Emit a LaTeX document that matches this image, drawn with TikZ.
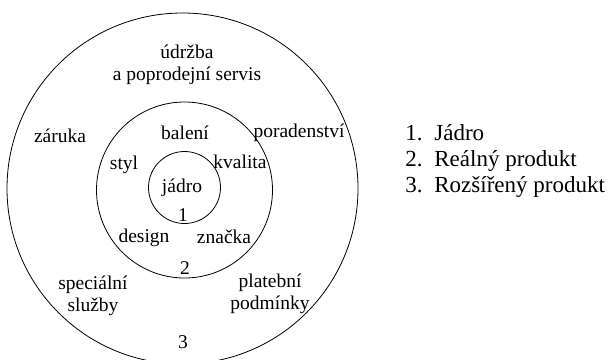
\documentclass[tikz,border=0pt]{standalone}
\usepackage{fontspec}
\setmainfont{Liberation Serif}
\usepackage{tikz}

\begin{document}
\begin{tikzpicture}[x = 1pt, y = -1pt, line width = 0.8pt,
                        ring/.style = {circle, draw, inner sep = 0pt},
                        word/.style = {anchor = base, inner sep = 0pt, align = center,
                                       font = \fontsize{19.5}{22}\selectfont},
                        item/.style = {anchor = base west, inner sep = 0pt,
                                       font = \fontsize{23}{26}\selectfont}]
      \useasboundingbox (0, 0) rectangle (610, 359);
      % rings
      \node [ring, minimum size = 351pt] (r3) at (182.5, 188.5){};
      \node [ring, minimum size = 176pt] (r2) at (184.5, 190){};
      \node [ring, minimum size = 72pt] (r1) at (184.5, 187.5){};
      % core
      \node [word] (jadro) at (182, 192){jádro};
      \node [word] (n1) at (183, 221){1};
      % real product
      \node [word] (baleni) at (185, 139){balení};
      \node [word] (styl) at (124, 169){styl};
      \node [word] (kvalita) at (240, 168){kvalita};
      \node [word] (design) at (144, 242){design};
      \node [word] (znacka) at (224, 243){značka};
      \node [word] (n2) at (185, 274){2};
      % augmented product
      \node [word] (udrzba) at (187, 80){údržba\\a poprodejní servis};
      \node [word] (zaruka) at (60, 142){záruka};
      \node [word] (poradenstvi) at (299, 137){poradenství};
      \node [word] (sluzby) at (93, 311){speciální\\služby};
      \node [word] (platebni) at (270, 309){platební\\podmínky};
      \node [word] (n3) at (183, 348){3};
      % legend
      \node [item] (l1) at (405, 140){\makebox[29pt][l]{1.}Jádro};
      \node [item] (l2) at (405, 166){\makebox[29pt][l]{2.}Reálný produkt};
      \node [item] (l3) at (405, 192){\makebox[29pt][l]{3.}Rozšířený produkt};
    \end{tikzpicture}
\end{document}
